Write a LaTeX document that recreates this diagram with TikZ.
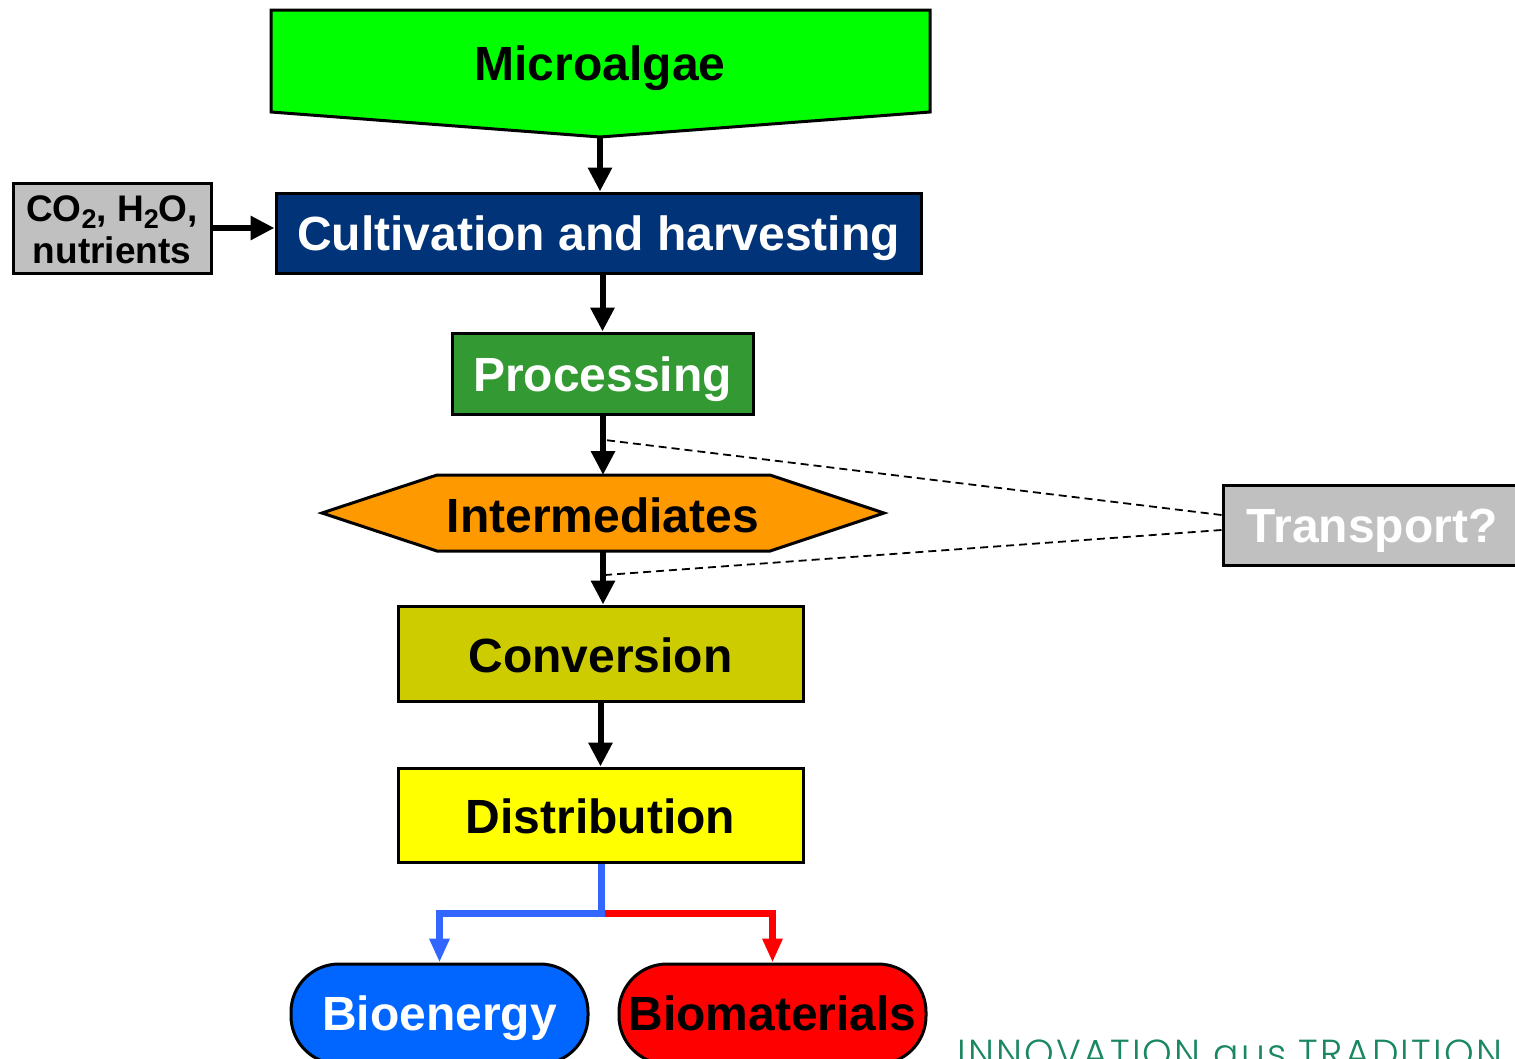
\documentclass[tikz,border=0pt]{standalone}
\usepackage{fontspec}
\setmainfont{Liberation Sans}
\IfFontExistsTF{Poppins Light}{\newfontfamily\thinfont{Poppins Light}[LetterSpace=6]}{\newfontfamily\thinfont{Poppins}[LetterSpace=6]}
\usetikzlibrary{arrows.meta}
\definecolor{algaegreen}{RGB}{0,255,0}
\definecolor{cultblue}{RGB}{0,51,119}
\definecolor{procgreen}{RGB}{51,153,51}
\definecolor{interorange}{RGB}{255,153,0}
\definecolor{convolive}{RGB}{204,204,0}
\definecolor{distyellow}{RGB}{255,255,0}
\definecolor{greybox}{RGB}{192,192,192}
\definecolor{lineblue}{RGB}{51,102,255}
\definecolor{bioblue}{RGB}{0,102,255}
\definecolor{logogreen}{RGB}{25,135,95}
\newcommand\bigtxt{\fontsize{48}{52}\selectfont\bfseries}
\newcommand\midtxt{\fontsize{37}{42}\selectfont\bfseries}
\newcommand\subtwo{\raisebox{-7pt}{\fontsize{27}{27}\selectfont 2}}
\begin{document}
\begin{tikzpicture}[x=1pt,y=-1pt,line join=miter,
  boxstyle/.style={draw=black,line width=3pt,inner sep=0pt,rectangle},
  labelstyle/.style={inner sep=0pt,anchor=base},
  arr/.style={line width=6pt,-{Triangle[length=24pt,width=23pt]}},
  splitarr/.style={line width=7pt,-{Triangle[length=24pt,width=19pt]}},
  dashline/.style={line width=1.8pt,dash pattern=on 8pt off 5pt}]
\useasboundingbox (0,0) rectangle (1515,1058);
\fill[white] (0,0) rectangle (1515,1058);
\clip (0,0) rectangle (1515,1058);

% Microalgae pentagon
\draw[line width=3pt,fill=algaegreen] (271,10) -- (930,10) -- (930,112) -- (600,137) -- (271,112) -- cycle;
\coordinate (mb) at (600,137);
\node[labelstyle] (microtxt) at (600,80) {\bigtxt Microalgae};

% Cultivation
\node[boxstyle,fill=cultblue,minimum width=645pt,minimum height=80pt] (cult) at (598.5,233) {};
\node[labelstyle,text=white] (culttxt) at (598.5,250) {\bigtxt Cultivation and harvesting};

% CO2 box
\node[boxstyle,fill=greybox,minimum width=198pt,minimum height=90pt] (co2) at (112,228) {};
\node[labelstyle] (co2a) at (112,221) {\midtxt CO\subtwo, H\subtwo O,};
\node[labelstyle] (co2b) at (112,263) {\midtxt nutrients};

% Processing
\node[boxstyle,fill=procgreen,minimum width=301pt,minimum height=81pt] (proc) at (602.5,373.5) {};
\node[labelstyle,text=white] (proctxt) at (602.5,391) {\bigtxt Processing};

% Intermediates hexagon
\draw[line width=3pt,fill=interorange] (322,513) -- (437,475) -- (770,475) -- (884,513) -- (770,551) -- (437,551) -- cycle;
\coordinate (intop) at (603,475);
\coordinate (inbot) at (603,551);
\node[labelstyle] (intertxt) at (603,532) {\bigtxt Intermediates};

% Conversion
\node[boxstyle,fill=convolive,minimum width=405pt,minimum height=95pt] (conv) at (600.5,653.5) {};
\node[labelstyle] (convtxt) at (600.5,672) {\bigtxt Conversion};

% Distribution
\node[boxstyle,fill=distyellow,minimum width=405pt,minimum height=94pt] (dist) at (600.5,815) {};
\node[labelstyle] (disttxt) at (600.5,833) {\bigtxt Distribution};

% Transport
\node[boxstyle,fill=greybox,minimum width=298pt,minimum height=80pt] (trans) at (1372,525) {};
\node[labelstyle,text=white] (transtxt) at (1372,542) {\bigtxt Transport?};

% Products
\node[boxstyle,fill=bioblue,minimum width=297pt,minimum height=100pt,rounded corners=48pt] (bioen) at (439.5,1014) {};
\node[labelstyle,text=white] (bioentxt) at (439.5,1030) {\bigtxt Bioenergy};
\node[boxstyle,fill=red,minimum width=307pt,minimum height=100pt,rounded corners=48pt] (biomat) at (772.5,1014) {};
\node[labelstyle] (biomattxt) at (772.5,1030) {\bigtxt Biomaterials};

% Arrows
\draw[arr] (mb) -- (cult.north -| mb);
\draw[arr] (co2.east) -- (cult.west |- co2.east);
\draw[arr] (cult.south -| proc.north) -- (proc.north);
\draw[arr] (proc.south -| intop) -- (intop);
\draw[arr] (inbot) -- (conv.north -| inbot);
\draw[arr] (conv.south) -- (dist.north);

% Split
\coordinate (split) at (601,913);
\draw[splitarr,draw=red] (split) -- (split -| biomat.north) -- (biomat.north);
\draw[splitarr,draw=lineblue] (dist.south -| split) -- (split) -| (bioen.north);

% Dashed transport links
\coordinate (d1) at (605,440);
\coordinate (d2) at (605,575);
\draw[dashline] ([yshift=10pt]trans.west) -- (d1);
\draw[dashline] ([yshift=-5pt]trans.west) -- (d2);

% Logo text
\node[anchor=base west,inner sep=0pt,text=logogreen] (logo) at (957,1066) {\resizebox{545pt}{!}{\thinfont INNOVATION aus TRADITION}};
\end{tikzpicture}
\end{document}
